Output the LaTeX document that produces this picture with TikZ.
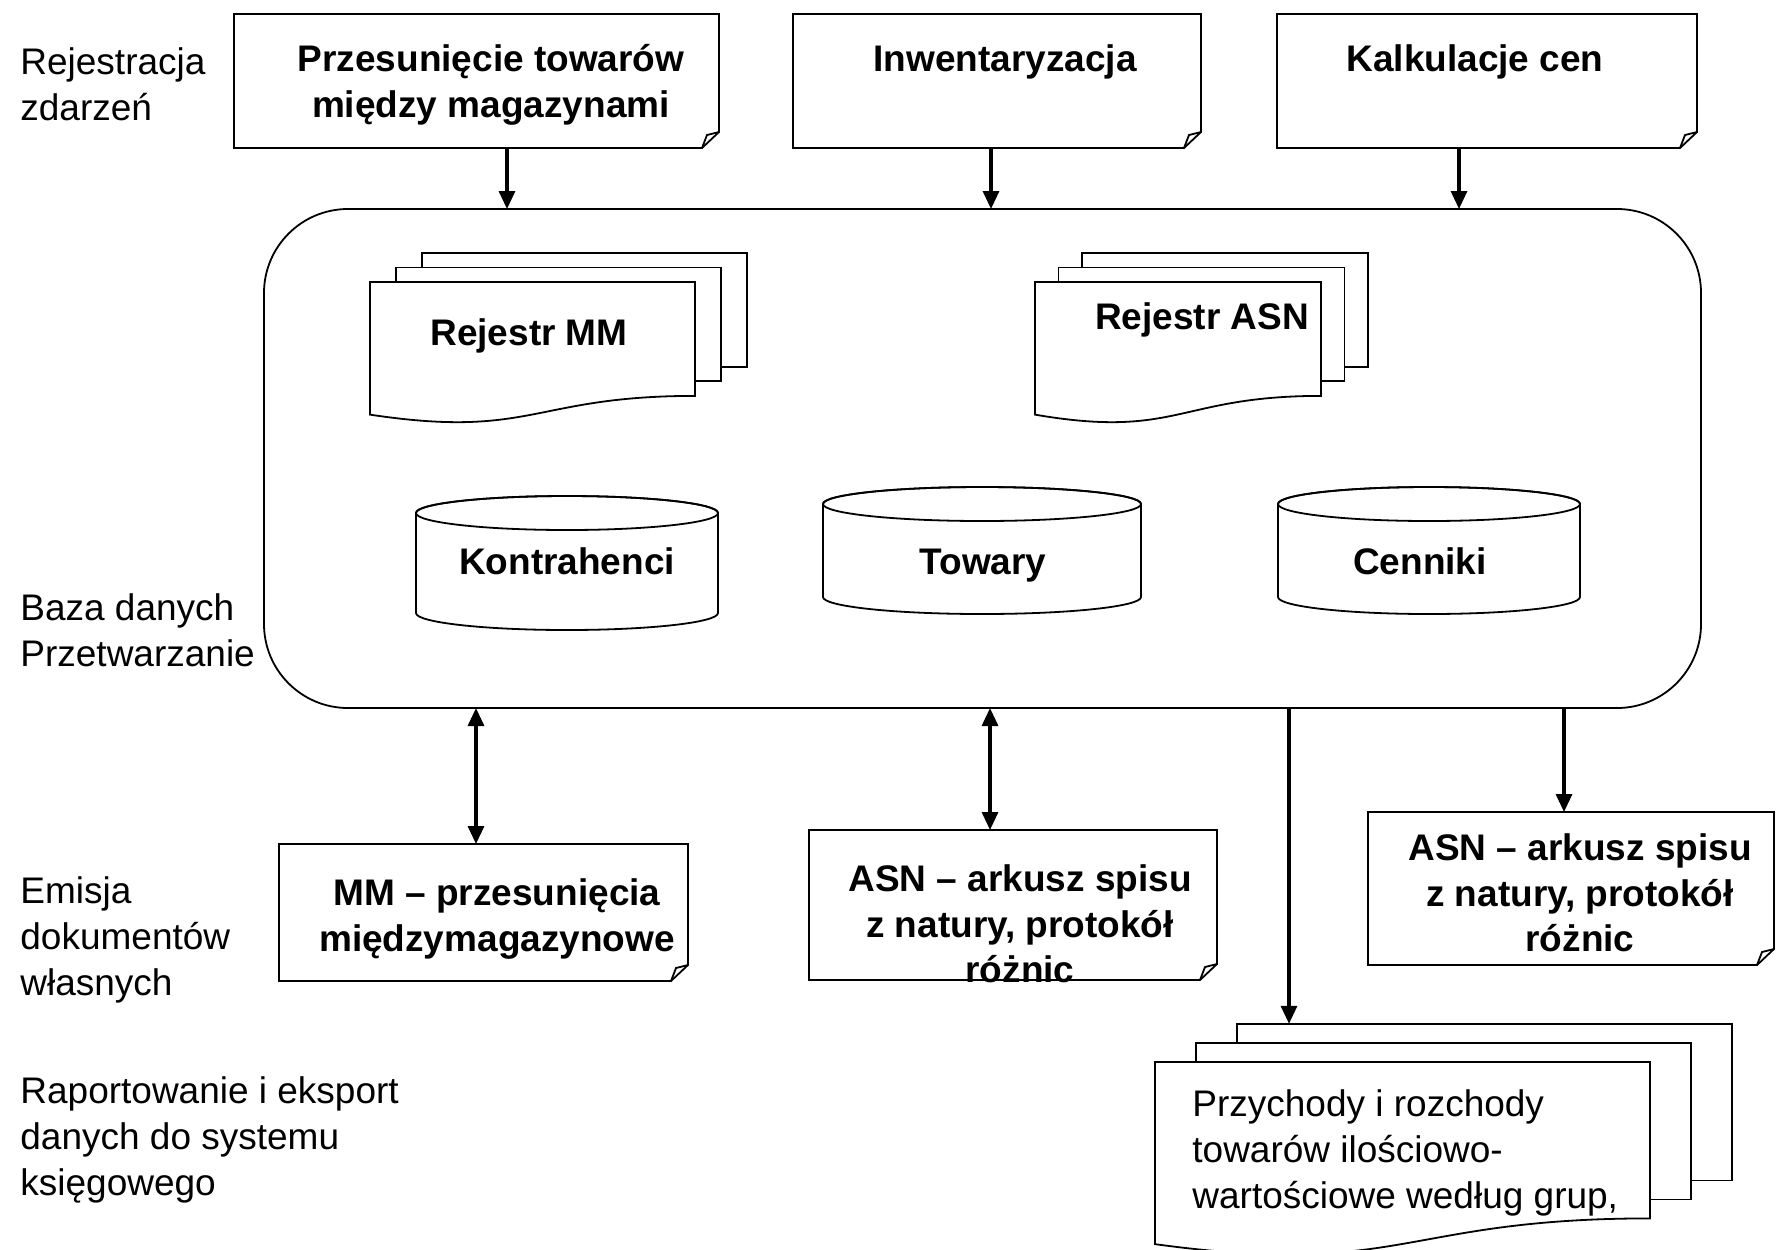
\documentclass[tikz,border=0pt]{standalone}
\usepackage{fontspec}
\setmainfont{Liberation Sans}
\usetikzlibrary{arrows.meta}

\tikzset{
  shapeline/.style={line width=0.9pt, fill=white},
  slot/.style={inner sep=0pt, outer sep=0pt},
  conn/.style={line width=1.6pt, -{Triangle[length=9pt,width=8pt]}},
  biconn/.style={line width=1.6pt, {Triangle[length=9pt,width=8pt]}-{Triangle[length=9pt,width=8pt]}},
  lbl/.style={inner sep=0pt, align=left, font=\fontsize{18.5}{22.8}\selectfont},
  title/.style={inner sep=0pt, align=center, font=\fontsize{18.5}{22.8}\selectfont\bfseries},
}

% outline of a document box with a folded bottom-right corner
\newcommand{\foldframe}[1]{%
  \draw[shapeline] (#1.north west) -- (#1.north east) -- ([yshift=8pt]#1.south east)
     -- ([xshift=-8.5pt]#1.south east) -- (#1.south west) -- cycle;
  \draw[line width=0.9pt] ([yshift=8pt]#1.south east) -- ([xshift=-6pt,yshift=6.5pt]#1.south east)
     -- ([xshift=-8.5pt]#1.south east);
}

% stack of documents: left, top, width, height of front sheet, offsets of sheets behind
\newcommand{\docstack}[6]{%
  \foreach \k in {2,1}{%
    \draw[shapeline] ({#1+\k*#5},{#2+\k*#6}) rectangle ++(#3,{0.802*#4});
  }
  \draw[shapeline] (#1,#2) -- ++(#3,0) -- ++(0,{0.802*#4})
     .. controls ++({-0.5*#3},0) and ({#1+0.5*#3},{#2+1.107*#4}) .. (#1,{#2+0.934*#4}) -- cycle;
}

% database cylinder: left, right, top-ellipse centre y, bottom-ellipse centre y, x radius
\newcommand{\dbcyl}[5]{%
  \draw[shapeline] (#1,#3) -- (#1,#4) arc[start angle=180,end angle=360,x radius=#5,y radius=8.5pt]
     -- (#2,#3) arc[start angle=0,end angle=180,x radius=#5,y radius=8.5pt] -- cycle;
  \draw[line width=0.9pt] ({(#1+#2)/2},#3) ellipse[x radius=#5,y radius=8.5pt];
}

\begin{document}
\begin{tikzpicture}[x=0.5pt,y=-0.5pt]
\useasboundingbox (0,0) rectangle (1776,1249);
\fill[white] (0,0) rectangle (1776,1249);

% ---- side captions ----
\node[lbl, anchor=west] (lrej) at (20,84) {Rejestracja\\zdarzeń};
\node[lbl, anchor=west] (lbaza) at (20,630) {Baza danych\\Przetwarzanie};
\node[lbl, anchor=west] (lemi) at (20,940) {Emisja\\dokumentów\\własnych};
\node[lbl, anchor=west] (lrap) at (20,1140) {Raportowanie i eksport\\danych do systemu\\księgowego};

% ---- input documents ----
\node[slot, minimum width=242.5pt, minimum height=67pt] (b1) at (476.5,81) {};
\node[slot, minimum width=204pt, minimum height=67pt] (b2) at (997,81) {};
\node[slot, minimum width=210pt, minimum height=67pt] (b3) at (1487,81) {};
\foldframe{b1}\foldframe{b2}\foldframe{b3}
\node[title] (b1t) at (491,85) {Przesunięcie towarów\\między magazynami};
\node[title] (b2t) at (1005,62) {Inwentaryzacja};
\node[title] (b3t) at (1475,62) {Kalkulacje cen};

% ---- database / processing ----
\node[slot, draw, line width=0.9pt, rounded corners=42pt, minimum width=718.5pt,
      minimum height=249.5pt] (db) at (982.5,458.5) {};

\docstack{370}{282}{325}{142}{26}{-14.5}
\node[title] (regmm) at (529,336) {Rejestr MM};
\docstack{1035}{282}{286}{142}{23.5}{-14.5}
\node[title] (regasn) at (1202,320) {Rejestr ASN};

\dbcyl{416}{718}{513}{613}{75.5pt}
\node[title] (kontr) at (567,561) {Kontrahenci};
\dbcyl{823}{1141}{504}{597}{79.5pt}
\node[title] (tow) at (983,566) {Towary};
\dbcyl{1278}{1580}{504}{597}{75.5pt}
\node[title] (cenn) at (1420,561) {Cenniki};

% ---- output documents ----
\node[slot, minimum width=204.5pt, minimum height=68.5pt] (m1) at (483.5,912.5) {};
\node[slot, minimum width=204pt, minimum height=75pt] (m2) at (1013,905) {};
\node[slot, minimum width=203pt, minimum height=76.5pt] (m3) at (1571,888.5) {};
\foldframe{m1}\foldframe{m2}\foldframe{m3}
\node[title] (m1t) at (497,919) {MM – przesunięcia\\międzymagazynowe};
\node[title] (m2t) at (1020,924) {ASN – arkusz spisu\\z natury, protokół\\różnic};
\node[title] (m3t) at (1580,893) {ASN – arkusz spisu\\z natury, protokół\\różnic};

% ---- report stack ----
\docstack{1155}{1062}{495}{195}{41}{-19}
\node[slot, minimum width=247.5pt, minimum height=78.2pt] (rap) at (1484.5,1102) {};
\node[lbl, anchor=west] (rapt) at (1192,1153) {Przychody i rozchody\\towarów ilościowo-\\wartościowe według grup,};

% ---- connectors ----
\coordinate (a1) at ([xshift=15.25pt]b1.south);
\coordinate (a2) at ([xshift=-3pt]b2.south);
\coordinate (a3) at ([xshift=-14pt]b3.south);
\draw[conn] (a1) -- (a1 |- db.north);
\draw[conn] (a2) -- (a2 |- db.north);
\draw[conn] (a3) -- (a3 |- db.north);

\coordinate (d1) at ([xshift=-3.75pt]m1.north);
\coordinate (d2) at ([xshift=-11.5pt]m2.north);
\coordinate (d3) at ([xshift=-3.5pt]m3.north);
\coordinate (d4) at ([xshift=-97.75pt]rap.north);
\draw[biconn] (d1 |- db.south) -- (d1);
\draw[biconn] (d2 |- db.south) -- (d2);
\draw[conn] (d3 |- db.south) -- (d3);
\draw[conn] (d4 |- db.south) -- (d4);
\end{tikzpicture}
\end{document}
